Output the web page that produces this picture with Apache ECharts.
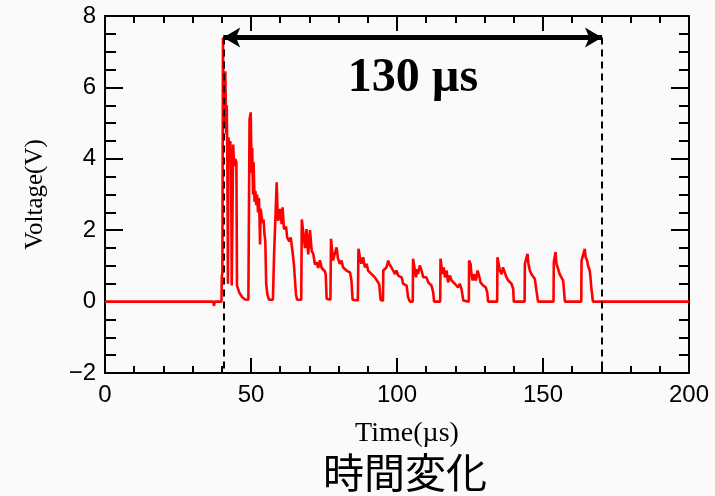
<!DOCTYPE html>
<html>
<head>
<meta charset="utf-8">
<script src="https://cdn.jsdelivr.net/npm/echarts@6/dist/echarts.min.js"></script>
<style>
  html, body { margin: 0; padding: 0; background: #fafafa; }
  #chart { width: 715px; height: 496px; }
</style>
</head>
<body>
<div id="chart"></div>
<script>
// trace: time in µs, voltage in V
const timeUs = [
  0, 37.1, 37.3, 37.6, 39.9, 40.0, 40.2, 40.4, 40.6, 40.8, 41.0, 41.2, 41.5, 41.7, 41.9, 42.1, 42.3, 42.6, 42.9, 43.2, 43.4, 43.7, 43.9, 44.2, 44.6, 45.0, 45.2, 46.0, 47.0, 48.0, 49.1,
  49.5, 49.9, 50.2, 50.4, 50.7, 50.9, 51.2, 51.5, 51.8, 52.1, 52.4, 52.7, 52.9, 53.1, 53.3, 53.6, 54.0, 54.3, 54.6, 54.9, 55.2, 55.6, 56.2, 57.5,
  57.9, 58.5, 58.8, 59.0, 59.3, 59.9, 60.5, 60.8, 61.3, 62.0, 62.4, 63.1, 63.6, 64.2, 64.7, 65.4, 65.8, 67.2,
  67.4, 67.9, 68.5, 69.0, 69.6, 70.2, 70.8, 71.3, 71.9, 72.5, 73.0, 73.6, 74.2, 74.7, 75.3, 75.6, 75.9, 77.2,
  77.4, 77.6, 78.1, 78.7, 79.3, 79.8, 80.4, 81.0, 81.5, 82.1, 82.7, 83.3, 83.9, 84.4, 84.8, 86.6,
  86.8, 87.0, 87.5, 87.8, 88.4, 89.0, 89.6, 90.1, 90.7, 91.3, 91.8, 92.4, 93.0, 93.9, 94.4, 95.2,
  95.3, 95.8, 96.4, 97.0, 97.3, 97.8, 98.1, 98.7, 99.3, 99.8, 100.4, 101.0, 101.6, 102.1, 103.3, 103.8, 104.4, 105.4,
  105.5, 106.1, 106.5, 106.9, 107.2, 107.8, 108.4, 109.0, 109.5, 110.1, 110.7, 111.2, 111.8, 112.4, 112.7, 114.8,
  114.9, 115.6, 116.0, 116.4, 117.0, 117.5, 118.1, 118.7, 119.2, 119.8, 120.4, 120.9, 121.5, 122.1, 122.7, 124.6,
  124.7, 125.2, 125.5, 125.9, 126.3, 127.0, 127.6, 128.1, 128.6, 129.5, 130.4, 130.9, 131.2, 134.3,
  134.4, 135.2, 135.8, 136.3, 136.9, 137.5, 138.1, 138.6, 139.2, 139.8, 140.0, 143.7,
  143.8, 144.7, 145.0, 145.5, 146.0, 146.6, 147.2, 147.5, 148.0, 148.3, 153.6,
  153.7, 154.3, 154.6, 155.2, 155.7, 156.3, 156.9, 157.5, 163.1,
  163.2, 164.3, 164.6, 165.1, 165.4, 166.0, 166.2, 166.6, 167.1, 200
];
const voltage = [
  0, 0, -0.12, 0, 0, 0.7, 0.8, 7.4, 5.0, 6.0, 4.9, 6.45, 4.7, 5.5, 3.9, 0.5, 4.6, 3.9, 4.5, 3.8, 0.45, 0.4, 4.4, 3.8, 4.0, 3.9, 0.45, 0.25, 0.12, 0.06, 0.05,
  5.1, 5.3, 3.6, 4.3, 3.0, 3.9, 2.8, 3.1, 2.7, 3.0, 2.5, 2.9, 2.4, 1.6, 2.6, 2.4, 2.2, 2.3, 1.9, 1.7, 0.5, 0.2, 0.05, 0.05,
  1.3, 1.35, 3.34, 2.73, 2.26, 2.6, 2.17, 2.64, 2.03, 2.1, 1.79, 1.69, 1.8, 1.41, 1.04, 0.2, 0.05, 0.05,
  2.3, 2.25, 1.5, 2.03, 1.32, 2.0, 1.41, 1.35, 1.04, 1.1, 0.94, 1.16, 0.94, 0.98, 0.85, 0.75, 0.08, 0.05,
  1.76, 1.8, 1.15, 1.34, 1.52, 1.2, 1.06, 1.15, 0.96, 1.0, 0.87, 0.87, 0.82, 0.59, 0.05, 0.03,
  1.48, 1.43, 1.15, 1.06, 1.24, 0.96, 1.06, 0.87, 0.91, 0.77, 0.73, 0.68, 0.63, 0.49, 0.05, 0.02,
  0.87, 0.82, 0.96, 1.15, 1.06, 1.0, 0.96, 0.87, 0.77, 0.87, 0.73, 0.68, 0.68, 0.5, 0.45, 0.12, 0, 0,
  1.2, 1.15, 0.68, 0.91, 0.77, 1.01, 0.87, 0.68, 0.63, 0.68, 0.54, 0.5, 0.45, 0.26, 0, 0,
  1.2, 0.77, 0.96, 0.68, 0.87, 0.54, 0.73, 0.59, 0.63, 0.5, 0.45, 0.4, 0.5, 0.35, 0.03, 0,
  1.15, 1.05, 0.77, 0.59, 0.77, 0.59, 0.87, 0.73, 0.54, 0.45, 0.4, 0.26, 0, 0,
  1.24, 0.87, 0.77, 0.96, 0.82, 0.68, 0.59, 0.63, 0.5, 0.35, 0, 0,
  1.06, 1.34, 1.06, 0.87, 0.77, 0.73, 0.63, 0.59, 0.17, 0, 0,
  1.1, 1.39, 1.06, 0.91, 0.77, 0.73, 0.59, 0, 0,
  1.15, 1.48, 1.24, 1.15, 1.01, 0.87, 0.73, 0.35, 0, 0
];

// annotation: arrow span and dashed markers
const spanStart = 40.5;
const spanEnd = 170.2;
const arrowY = 7.4;
const spanLabel = '130 µs';

const xTicks = { min: 0, max: 200, interval: 50 };
const yTicks = { min: -2, max: 8, interval: 2 };

const points = timeUs.map((t, i) => [t, voltage[i]]);

const chart = echarts.init(document.getElementById('chart'));

const tickColor = '#000';
const axisBase = {
  type: 'value',
  splitLine: { show: false },
  axisLine: { show: true, onZero: false, lineStyle: { color: tickColor, width: 2 } },
  axisTick: { show: true, inside: true, lineStyle: { color: tickColor, width: 2 } },
  minorTick: { show: true, lineStyle: { color: tickColor, width: 2 } }
};

chart.setOption({
  animation: false,
  backgroundColor: '#fafafa',
  grid: { left: 105, right: 26, top: 16, bottom: 123 },
  title: {
    text: '時間変化',
    left: 318,
    top: 447,
    textStyle: { fontFamily: 'Noto Sans CJK JP', fontSize: 41, fontWeight: 'normal', color: '#000' }
  },
  xAxis: [
    Object.assign({}, axisBase, {
      min: xTicks.min, max: xTicks.max, interval: xTicks.interval,
      position: 'bottom',
      axisTick: Object.assign({}, axisBase.axisTick, { length: 15 }),
      minorTick: Object.assign({}, axisBase.minorTick, { splitNumber: 5, length: 7 }),
      axisLabel: { color: '#000', fontFamily: 'Liberation Sans', fontSize: 24, margin: 10 },
      name: 'Time(µs)',
      nameLocation: 'middle',
      nameGap: 47,
      nameTextStyle: { color: '#000', fontFamily: 'Liberation Serif', fontSize: 28, padding: [0, 0, 0, 20] }
    }),
    Object.assign({}, axisBase, {
      min: xTicks.min, max: xTicks.max, interval: xTicks.interval,
      position: 'top',
      axisTick: Object.assign({}, axisBase.axisTick, { length: 15 }),
      minorTick: Object.assign({}, axisBase.minorTick, { splitNumber: 5, length: 7 }),
      axisLabel: { show: false }
    })
  ],
  yAxis: [
    Object.assign({}, axisBase, {
      min: yTicks.min, max: yTicks.max, interval: yTicks.interval,
      position: 'left',
      axisTick: Object.assign({}, axisBase.axisTick, { length: 18 }),
      minorTick: Object.assign({}, axisBase.minorTick, { splitNumber: 4, length: 11 }),
      axisLabel: {
        color: '#000', fontFamily: 'Liberation Sans', fontSize: 24, margin: 9,
        formatter: v => String(v).replace('-', '−')
      },
      name: 'Voltage(V)',
      nameLocation: 'middle',
      nameGap: 57,
      nameTextStyle: { color: '#000', fontFamily: 'Liberation Serif', fontSize: 25 }
    }),
    Object.assign({}, axisBase, {
      min: yTicks.min, max: yTicks.max, interval: yTicks.interval,
      position: 'right',
      axisTick: Object.assign({}, axisBase.axisTick, { length: 18 }),
      minorTick: Object.assign({}, axisBase.minorTick, { splitNumber: 4, length: 10 }),
      axisLabel: { show: false }
    })
  ],
  series: [
    {
      type: 'line',
      data: points,
      showSymbol: false,
      lineStyle: { color: '#ff0000', width: 2.6 },
      markLine: {
        silent: true,
        symbol: ['none', 'none'],
        label: { show: false },
        data: [
          [
            { coord: [spanStart, arrowY], symbol: 'arrow', symbolSize: [15, 17], lineStyle: { color: '#000', width: 5, type: 'solid' } },
            { coord: [spanEnd, arrowY], symbol: 'arrow', symbolSize: [15, 17] }
          ],
          [
            { coord: [spanStart, arrowY], lineStyle: { color: '#000', width: 2, type: [7, 5] } },
            { coord: [spanStart, yTicks.min] }
          ],
          [
            { coord: [spanEnd, arrowY], lineStyle: { color: '#000', width: 2, type: [7, 5] } },
            { coord: [spanEnd, yTicks.min] }
          ]
        ]
      }
    }
  ],
  graphic: [
    {
      type: 'text',
      x: 413,
      y: 79,
      style: {
        text: spanLabel,
        font: 'bold 48px "Liberation Serif"',
        fill: '#000',
        align: 'center',
        verticalAlign: 'middle'
      }
    }
  ]
});
</script>
</body>
</html>
